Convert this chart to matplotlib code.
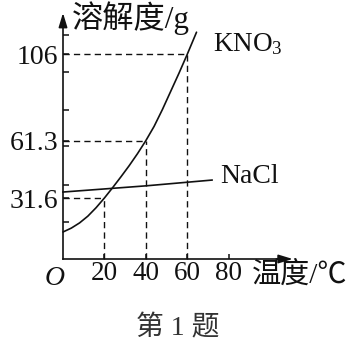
import matplotlib
matplotlib.use("Agg")
from matplotlib import pyplot as plt

plt.rcParams['font.family'] = ['Liberation Serif', 'Noto Sans CJK SC', 'DejaVu Sans']
plt.rcParams['mathtext.fontset'] = 'custom'
plt.rcParams['mathtext.rm'] = 'Liberation Serif'

# data
kno3_temp = [0, 4, 8, 12, 16, 20, 24, 28, 32, 36, 40, 44, 48, 52, 56, 60, 64.5]
kno3_sol = [14, 16, 18.7, 22.2, 26.6, 31.6, 37, 42.6, 48.4, 54.6, 61.3, 68.7, 77.4, 86.8, 96.2, 106, 117.5]
nacl_temp = [0, 40, 72]
nacl_sol = [34.7, 37.9, 40.9]
marked_temp = [20, 40, 60]
marked_sol = [31.6, 61.3, 106]
marked_labels = ['31.6', '61.3', '106']
x_ticks = [20, 40, 60, 80]
y_minor = [19.3, 38.5, 58.3, 77, 96.8, 116]

INK = '#111111'

# pixel layout: origin at (63, 259) from top-left, px per unit
x0, y0 = 63, 259
sx, sy = 2.07, 1.93
W, H = 354, 345

fig = plt.figure(figsize=(W / 100, H / 100), dpi=100)
ax = fig.add_axes([0, 0, 1, 1])
ax.set_xlim(-x0 / sx, (W - x0) / sx)
ax.set_ylim(-(H - y0) / sy, y0 / sy)

for s in ['top', 'right']:
    ax.spines[s].set_visible(False)
ax.spines['left'].set_position(('data', 0))
ax.spines['bottom'].set_position(('data', 0))
ax.spines['left'].set_bounds(0, 124)
ax.spines['bottom'].set_bounds(0, 106)
for s in ['left', 'bottom']:
    ax.spines[s].set_linewidth(1.2)
    ax.spines[s].set_color(INK)

arrow = dict(arrowstyle='-|>,head_length=0.85,head_width=0.26', color=INK,
             lw=1.2, shrinkA=0, shrinkB=0)
ax.annotate('', xy=(0, 127.5), xytext=(0, 120), arrowprops=arrow)
ax.annotate('', xy=(111, 0), xytext=(103, 0), arrowprops=arrow)

ax.set_xticks(x_ticks)
ax.set_xticklabels([str(t) for t in x_ticks])
ax.set_yticks(marked_sol)
ax.set_yticklabels(marked_labels)
ax.set_yticks(y_minor, minor=True)
ax.tick_params(axis='x', direction='in', length=3.6, width=1.1, color=INK,
               labelsize=19.5, pad=1.5, labelcolor=INK)
ax.tick_params(axis='y', which='both', direction='in', length=4.3, width=1.1,
               color=INK, labelsize=20, pad=3.5, labelcolor=INK)

# curves
ax.plot(kno3_temp, kno3_sol, color=INK, lw=1.2, solid_capstyle='round')
ax.plot(nacl_temp, nacl_sol, color=INK, lw=1.2)

# guide lines
dash = (0, (4.5, 3))
for t, v in zip(marked_temp, marked_sol):
    ax.plot([0, t], [v, v], color=INK, lw=1.0, linestyle=dash)
    ax.plot([t, t], [0, v], color=INK, lw=1.0, linestyle=dash)

# labels
ax.text(-3.9, -10, 'O', fontsize=20, style='italic', ha='center', va='center', color=INK)
ax.text(91.3, -8.6, '温度/℃', fontsize=21, ha='left', va='center', color=INK)
ax.text(4.3, 124.6, '溶解度/g', fontsize=22.5, ha='left', va='center', color=INK)
ax.text(72.5, 111.4, r'$\mathrm{KNO_3}$', fontsize=19.5, ha='left', va='center', color=INK)
ax.text(75.8, 42.5, 'NaCl', fontsize=20, ha='left', va='center', color=INK)
ax.text(55.6, -35.8, '第 1 题', fontsize=20, ha='center', va='center', color='#333333')

fig.savefig('out.png', dpi=100)
